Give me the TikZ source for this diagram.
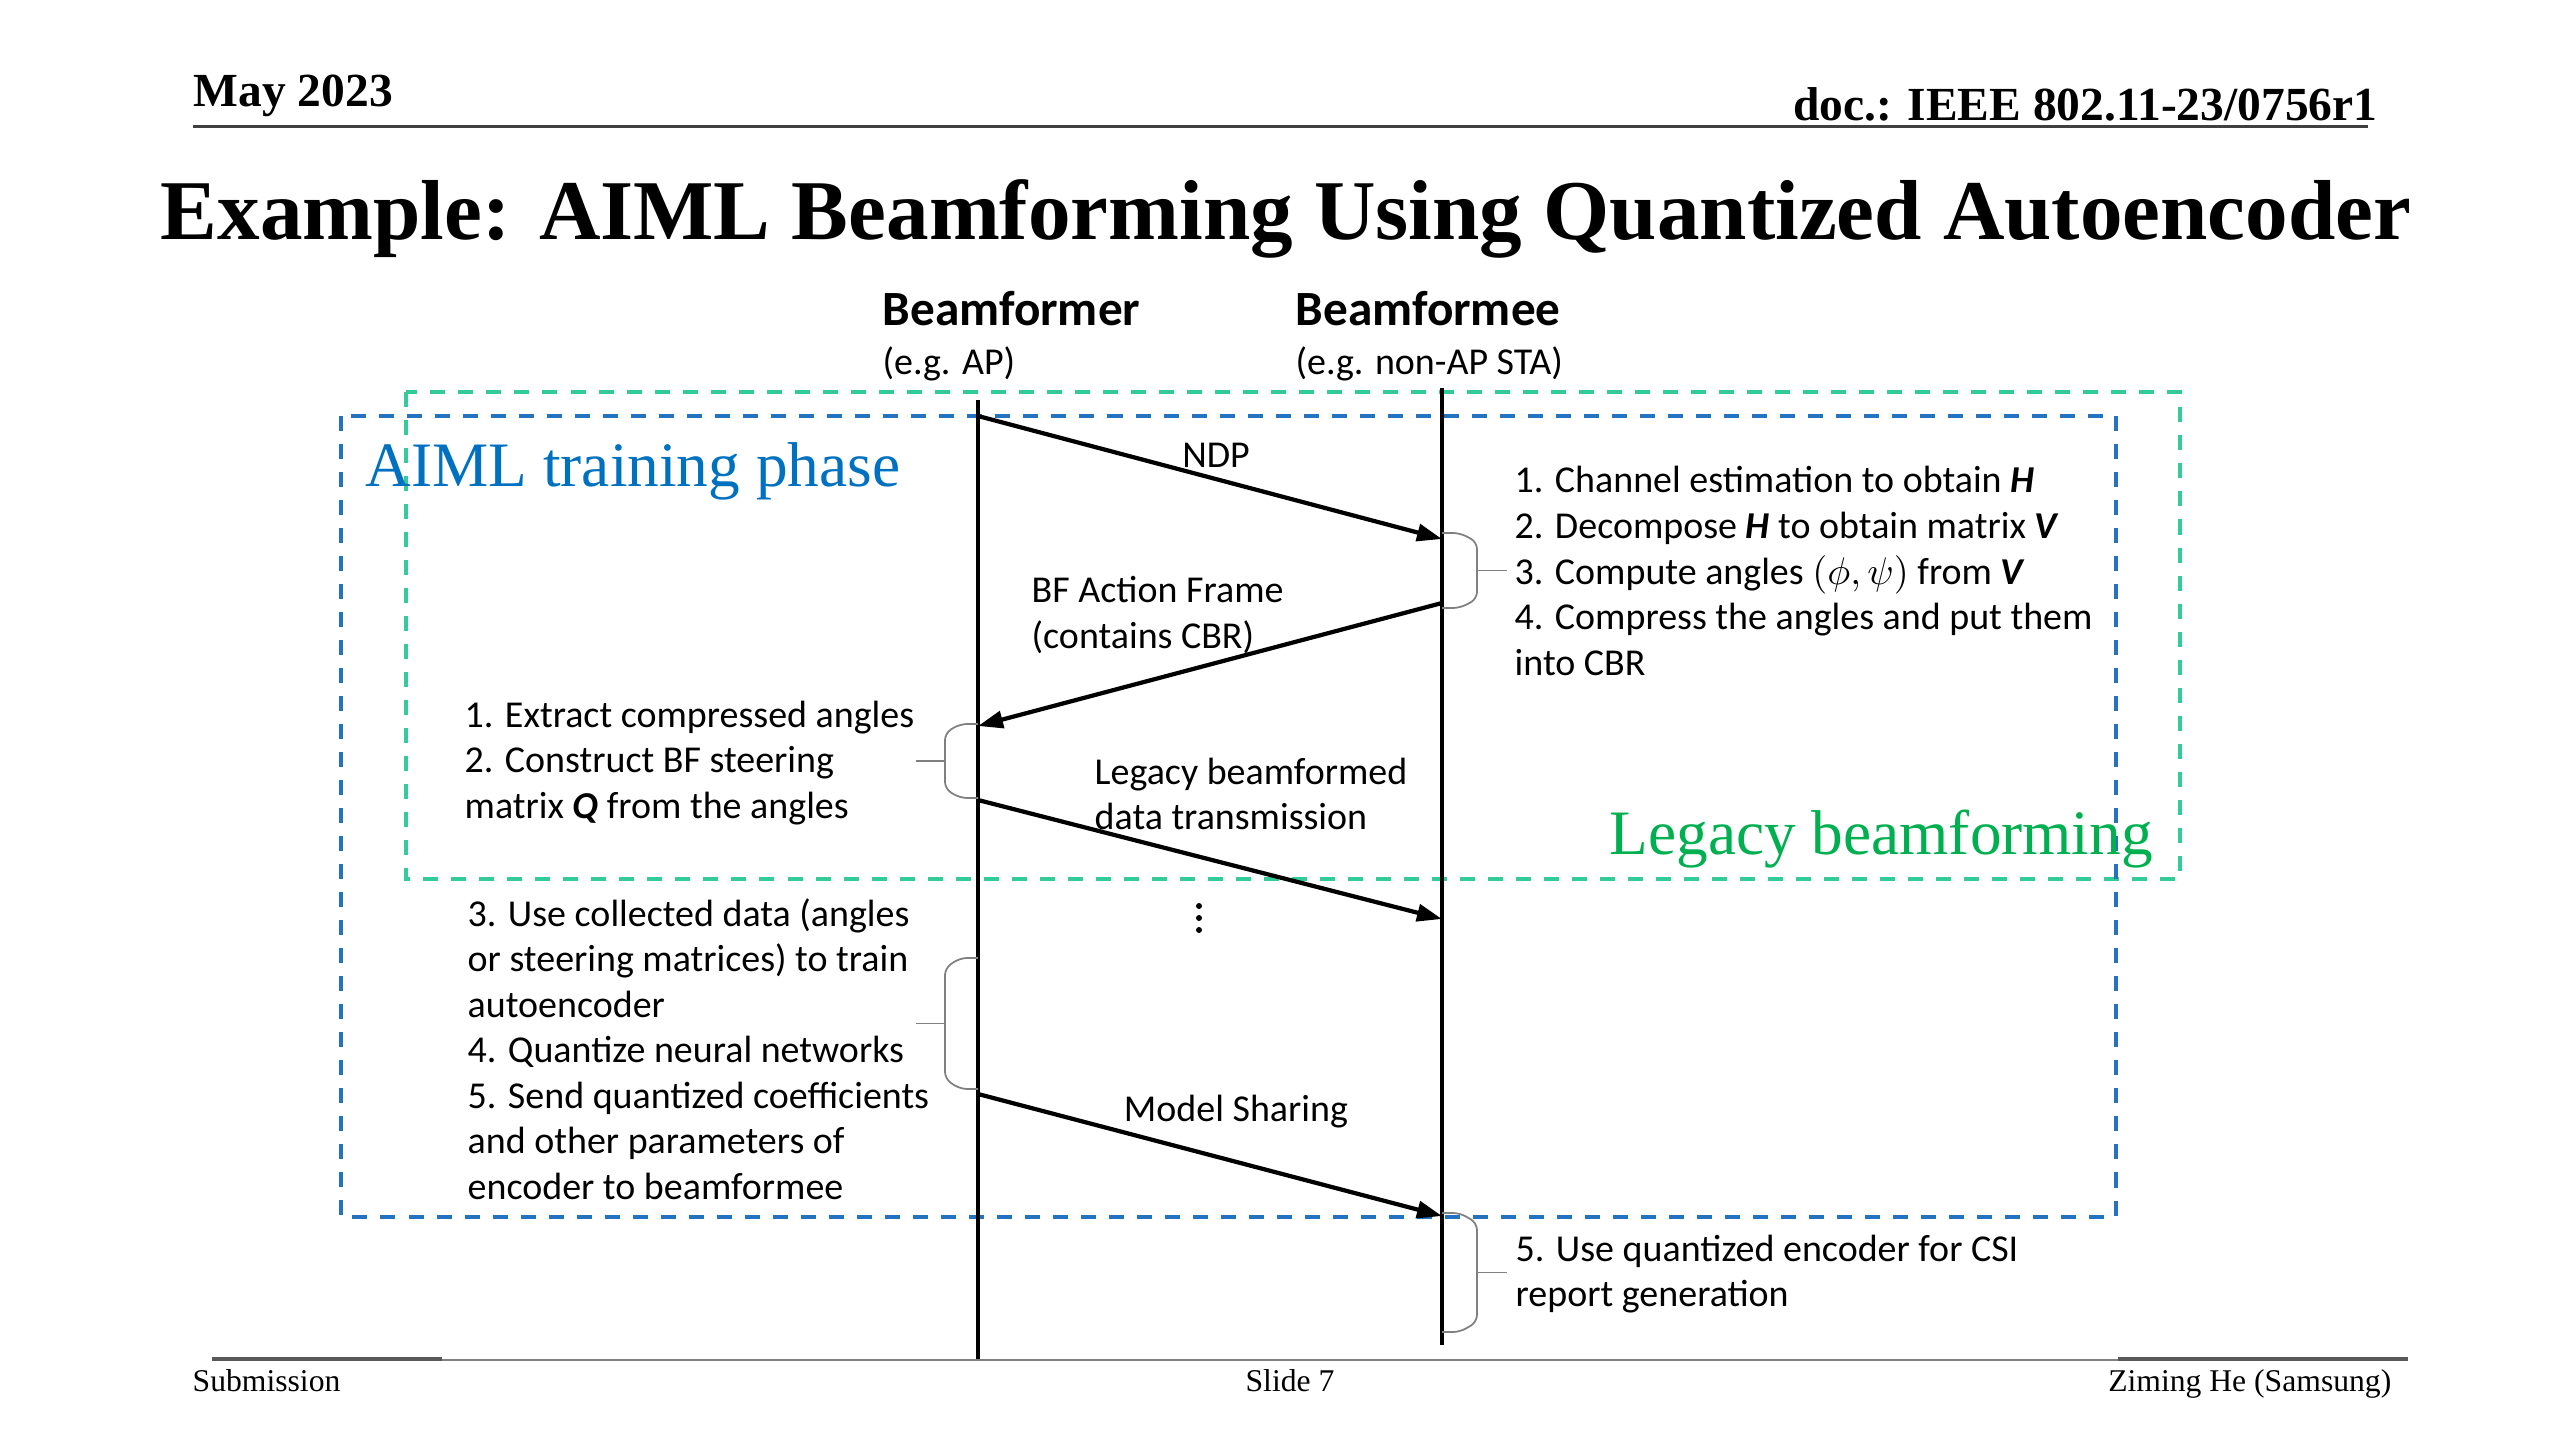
\documentclass[tikz,border=0pt]{standalone}
\usepackage{fontspec}
\setmainfont{Carlito}
\newfontfamily\tnr{Liberation Serif}
\usetikzlibrary{calc, positioning, arrows.meta}
\definecolor{aimlblue}{HTML}{0070C0}
\definecolor{boxblue}{HTML}{2473C0}
\definecolor{boxgreen}{HTML}{33CC99}
\definecolor{legacygreen}{HTML}{00B050}

\begin{document}
\begin{tikzpicture}[x=0.01cm, y=-0.01cm,
  hdr/.style={font=\tnr\bfseries\fontsize{13.5}{16}\selectfont, inner sep=0pt},
  headline/.style={font=\tnr\bfseries\fontsize{24.2}{29}\selectfont, inner sep=0pt},
  ftr/.style={font=\tnr\fontsize{9}{11}\selectfont, inner sep=0pt},
  role/.style={font=\bfseries\fontsize{14}{17}\selectfont, inner sep=0pt},
  sub/.style={font=\fontsize{10.8}{13}\selectfont, inner sep=0pt},
  note/.style={font=\fontsize{10.8}{12.95}\selectfont, align=left, anchor=west, inner sep=0pt},
  phase/.style={font=\tnr\fontsize{18}{21}\selectfont, inner sep=0pt},
  region/.style={line width=1pt, dash pattern=on 1.5mm off 1.3mm},
  life/.style={line width=0.9pt},
  msg/.style={line width=1.2pt, -{Triangle[length=2.5mm,width=1.7mm]}},
  brc/.style={draw=gray, line width=0.5pt, rounded corners=2pt},
]
\useasboundingbox (0,0) rectangle (2560,1440);

\node[hdr, anchor=base west] (date) at (193,107) {May 2023};
\node[hdr, anchor=base east] (doc) at (2378,121) {doc.: IEEE 802.11-23/0756r1};
\draw[line width=0.3mm, draw=black!75] (193,127) -- (2368,127);
\node[headline, anchor=base] (title) at (1286,240) {Example: AIML Beamforming Using Quantized Autoencoder};

\node[role, anchor=base west] (bfr) at (882,326) {Beamformer};
\node[sub, anchor=base west] (bfrsub) at (882,375) {(e.g. AP)};
\node[role, anchor=base west] (bfe) at (1295,326) {Beamformee};
\node[sub, anchor=base west] (bfesub) at (1295,375) {(e.g. non-AP STA)};

\draw[region, draw=boxgreen] (406,392) rectangle (2180,879);
\draw[region, draw=boxblue] (341,416) rectangle (2116,1217);
\node[phase, text=aimlblue, anchor=base west] (aiml) at (365,487) {AIML training phase};
\node[phase, text=legacygreen, anchor=base west] (legacy) at (1609,855) {Legacy beamforming};

\coordinate (ltop) at (978,400);
\coordinate (lbot) at (978,1360);
\coordinate (rtop) at (1442,388);
\coordinate (rbot) at (1442,1345);
\draw[life] (ltop) -- (lbot);
\draw[life] (rtop) -- (rbot);

\coordinate (ndp0) at (978,416);
\coordinate (ndp1) at (1442,539);
\coordinate (bf0) at (1442,603);
\coordinate (bf1) at (978,726);
\coordinate (dat0) at (978,800);
\coordinate (dat1) at (1442,919);
\coordinate (ms0) at (978,1094);
\coordinate (ms1) at (1442,1216);
\draw[msg] (ndp0) -- (ndp1);
\draw[msg] (bf0) -- (bf1);
\draw[msg] (dat0) -- (dat1);
\draw[msg] (ms0) -- (ms1);

\node (ndp) at (1216,455) [sub] {NDP};
\node[note] (bfaction) at (1031,615) {BF Action Frame\\(contains CBR)};
\node[note] (legdata) at (1094,794) {Legacy beamformed\\data transmission};
\foreach \y in {906,918,930}
  \fill (1199,\y) circle (3);
\node (share) at (1236,1112) [sub] {Model Sharing};

% braces
\coordinate (c1t) at (1442,533);
\coordinate (c1b) at (1442,608);
\draw[brc] (c1t) -- ++(18,0) -- ++(17,9) -- ($(c1b)+(35,-9)$) -- ++(-17,9) -- (c1b);
\draw[brc] ($(c1t)!0.5!(c1b)+(35,0)$) -- ++(30,0);
\coordinate (b1t) at (978,724);
\coordinate (b1b) at (978,798);
\draw[brc] (b1t) -- ++(-18,0) -- ++(-15,9) -- ($(b1b)+(-33,-9)$) -- ++(15,9) -- (b1b);
\draw[brc] ($(b1t)!0.5!(b1b)+(-33,0)$) -- ++(-29,0);
\coordinate (b2t) at (978,958);
\coordinate (b2b) at (978,1089);
\draw[brc] (b2t) -- ++(-18,0) -- ++(-15,10) -- ($(b2b)+(-33,-10)$) -- ++(15,10) -- (b2b);
\draw[brc] ($(b2t)!0.5!(b2b)+(-33,0)$) -- ++(-29,0);
\coordinate (c2t) at (1442,1213);
\coordinate (c2b) at (1442,1332);
\draw[brc] (c2t) -- ++(18,0) -- ++(17,10) -- ($(c2b)+(35,-10)$) -- ++(-17,10) -- (c2b);
\draw[brc] ($(c2t)!0.5!(c2b)+(35,0)$) -- ++(30,0);

\node[note] (steps1) at (1514,571) {1. Channel estimation to obtain \textbf{\textit{H}}\\
  2. Decompose \textbf{\textit{H}} to obtain matrix \textbf{\textit{V}}\\
  3. Compute angles $(\phi,\psi)$ from \textbf{\textit{V}}\\
  4. Compress the angles and put them\\
  into CBR};
\node[note] (steps2) at (464,763) {1. Extract compressed angles\\
  2. Construct BF steering\\
  matrix \textbf{\textit{Q}} from the angles};
\node[note] (steps3) at (467,1049) {3. Use collected data (angles\\
  or steering matrices) to train\\
  autoencoder\\
  4. Quantize neural networks\\
  5. Send quantized coefficients\\
  and other parameters of\\
  encoder to beamformee};
\node[note] (steps4) at (1515,1274) {5. Use quantized encoder for CSI\\
  report generation};

\draw[line width=0.2mm, draw=gray] (212,1360) -- (2408,1360);
\draw[line width=0.4mm, draw=gray!70!black] (212,1359) -- (442,1359);
\draw[line width=0.4mm, draw=gray!70!black] (2118,1359) -- (2408,1359);
\node[ftr, anchor=base west] (submission) at (192,1391) {Submission};
\node[ftr, anchor=base] (slide) at (1290,1391) {Slide 7};
\node[ftr, anchor=base east] (author) at (2392,1391) {Ziming He (Samsung)};
\end{tikzpicture}
\end{document}
